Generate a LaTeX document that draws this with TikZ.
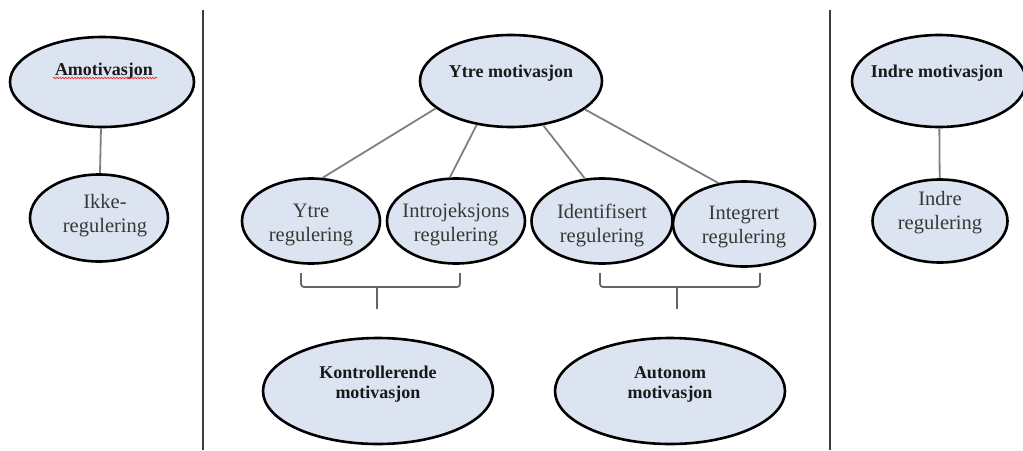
\documentclass[tikz,border=0pt]{standalone}
\usepackage{fontspec}
\setmainfont{Liberation Serif}
\usetikzlibrary{shapes.geometric,decorations.pathmorphing}
\definecolor{ovalfill}{RGB}{220,228,241}
\definecolor{linkgray}{RGB}{128,128,128}
\definecolor{sepgray}{RGB}{60,60,60}
\begin{document}
\begin{tikzpicture}[x=1pt,y=-1pt,
  oval/.style={ellipse, draw=black, line width=2.6pt, fill=ovalfill, inner sep=0pt},
  boldtxt/.style={font=\fontsize{18}{20}\selectfont\bfseries, text=black!90, align=center, inner sep=0pt},
  regtxt/.style={font=\fontsize{20.5}{24}\selectfont, text=black!78, align=center, inner sep=0pt},
  link/.style={draw=linkgray, line width=1.8pt},
  bracket/.style={draw=linkgray!80!black, line width=1.8pt, rounded corners=3pt},
  sepline/.style={draw=sepgray, line width=2.4pt},
  squiggle/.style={draw=red!85, line width=0.7pt, decorate, decoration={snake, amplitude=0.7pt, segment length=3pt}}]
\useasboundingbox (0,0) rectangle (1023,450);
\fill[white] (0,0) rectangle (1023,450);

% separators
\coordinate (sepAtop) at (203,10);
\coordinate (sepAbot) at (203,450);
\coordinate (sepBtop) at (830,10);
\coordinate (sepBbot) at (830,450);
\draw[sepline] (sepAtop) -- (sepAbot);
\draw[sepline] (sepBtop) -- (sepBbot);

% left column
\node[oval, minimum width=184pt, minimum height=90pt] (amot) at (102,82) {};
\node[boldtxt] (amot-t) at (104,71) {Amotivasjon};
\coordinate (sqA) at (53,78);
\coordinate (sqB) at (157,78);
\draw[squiggle] (sqA) -- (sqB);
\node[oval, minimum width=138pt, minimum height=87pt] (ikke) at (99,218) {};
\node[regtxt] (ikke-t) at (105,216) {Ikke-\\regulering};
\draw[link] (amot) -- (ikke);

% middle column
\node[oval, minimum width=182pt, minimum height=92pt] (ytremot) at (511,81) {};
\node[boldtxt] (ytremot-t) at (511,73) {Ytre motivasjon};

\node[oval, minimum width=138pt, minimum height=85pt] (ytrereg) at (311,221) {};
\node[regtxt] (ytrereg-t) at (311,225) {Ytre\\regulering};
\node[oval, minimum width=138pt, minimum height=85pt] (introj) at (456,221) {};
\node[regtxt] (introj-t) at (456,225) {Introjeksjons\\regulering};
\node[oval, minimum width=141pt, minimum height=85pt] (ident) at (602,221) {};
\node[regtxt] (ident-t) at (602,225) {Identifisert\\regulering};
\node[oval, minimum width=142pt, minimum height=85pt] (integ) at (744,224) {};
\node[regtxt] (integ-t) at (744,227) {Integrert\\regulering};

\draw[link] (ytremot.200) -- (ytrereg.75);
\draw[link] (ytremot.232) -- (introj.98);
\draw[link] (ytremot.306) -- (ident.112);
\draw[link] (ytremot.339) -- (integ.122);

% brackets
\coordinate (bLa) at (301,273);
\coordinate (bLb) at (460,273);
\coordinate (bLm) at (377,287);
\coordinate (bLs) at (377,309);
\draw[bracket] (bLa) |- (bLb |- bLm) -- (bLb);
\draw[bracket] (bLm) -- (bLs);

\coordinate (bRa) at (600,273);
\coordinate (bRb) at (760,273);
\coordinate (bRm) at (677,287);
\coordinate (bRs) at (677,309);
\draw[bracket] (bRa) |- (bRb |- bRm) -- (bRb);
\draw[bracket] (bRm) -- (bRs);

\node[oval, minimum width=230pt, minimum height=106pt] (kontr) at (378,391) {};
\node[boldtxt] (kontr-t) at (378,384) {Kontrollerende\\motivasjon};
\node[oval, minimum width=230pt, minimum height=106pt] (auto) at (670,391) {};
\node[boldtxt] (auto-t) at (670,384) {Autonom\\motivasjon};

% right column
\node[oval, minimum width=174pt, minimum height=92pt] (indremot) at (939,81) {};
\node[boldtxt] (indremot-t) at (937,73) {Indre motivasjon};
\node[oval, minimum width=135pt, minimum height=83pt] (indrereg) at (940,221) {};
\node[regtxt] (indrereg-t) at (940,213) {Indre\\regulering};
\draw[link] (indremot) -- (indrereg);
\end{tikzpicture}
\end{document}
